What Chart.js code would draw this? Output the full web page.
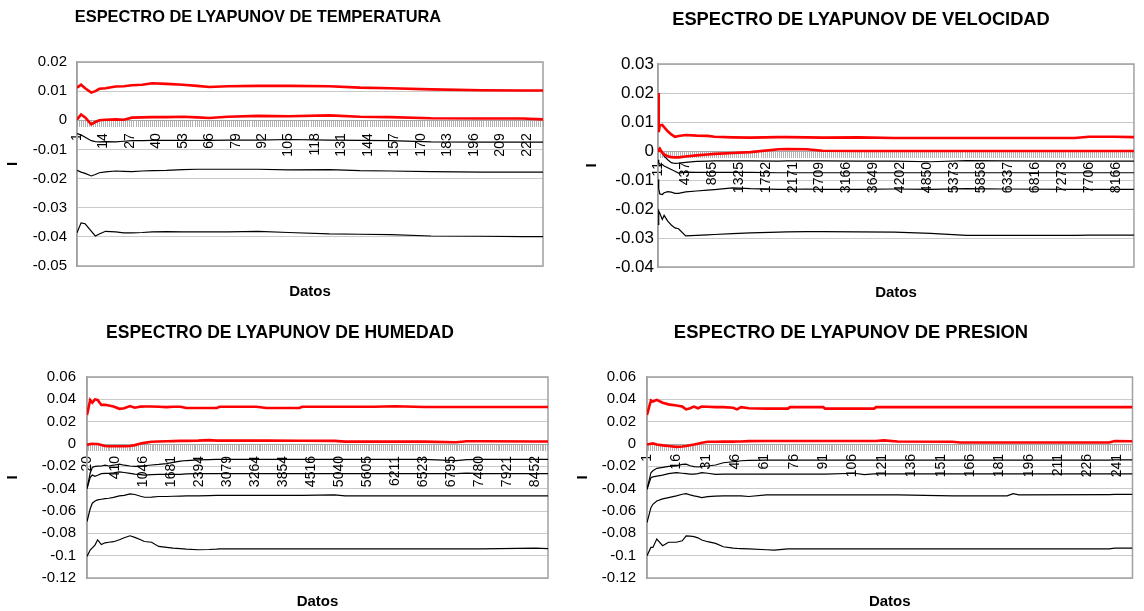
<!DOCTYPE html>
<html>
<head>
<meta charset="utf-8">
<script src="https://cdn.jsdelivr.net/npm/chart.js@4.4.1/dist/chart.umd.min.js"></script>
<style>
  body { margin: 0; background: #fff; width: 1144px; height: 611px; position: relative; overflow: hidden; }
  canvas { position: absolute; }
</style>
</head>
<body>
<canvas id="chart-temp" width="560" height="305" style="left:0;top:0"></canvas>
<canvas id="chart-vel" width="565" height="305" style="left:579px;top:0"></canvas>
<canvas id="chart-hum" width="570" height="301" style="left:0;top:310px"></canvas>
<canvas id="chart-pres" width="574" height="301" style="left:570px;top:310px"></canvas>
<script>
// temperatura (x = dato)
const tempX = [1, 3, 5, 8, 10, 12, 15, 20, 24, 28, 33, 38, 45, 53, 60, 66, 75, 90, 105, 125, 140, 155, 175, 200, 220, 230];
const tempR1 = [0.0112, 0.0122, 0.0110, 0.0095, 0.0100, 0.0108, 0.0110, 0.0116, 0.0117, 0.0120, 0.0122, 0.0127, 0.0125, 0.0122, 0.0118, 0.0114, 0.0117, 0.0118, 0.0118, 0.0117, 0.0112, 0.0110, 0.0106, 0.0103, 0.0102, 0.0102];
const tempR2 = [0.0002, 0.0020, 0.0010, -0.0014, -0.0006, 0.0000, 0.0002, 0.0003, 0.0002, 0.0009, 0.0010, 0.0011, 0.0011, 0.0012, 0.0010, 0.0008, 0.0012, 0.0015, 0.0014, 0.0017, 0.0012, 0.0011, 0.0007, 0.0006, 0.0006, 0.0003];
const tempB1 = [-0.0046, -0.0050, -0.0058, -0.0070, -0.0073, -0.0074, -0.0073, -0.0074, -0.0072, -0.0070, -0.0070, -0.0069, -0.0069, -0.0069, -0.0069, -0.0069, -0.0068, -0.0068, -0.0066, -0.0068, -0.0069, -0.0070, -0.0074, -0.0075, -0.0075, -0.0075];
const tempB2 = [-0.0172, -0.0178, -0.0182, -0.0191, -0.0186, -0.0180, -0.0177, -0.0174, -0.0175, -0.0176, -0.0174, -0.0173, -0.0172, -0.0169, -0.0168, -0.0168, -0.0168, -0.0168, -0.0170, -0.0169, -0.0173, -0.0174, -0.0176, -0.0178, -0.0178, -0.0178];
const tempB3 = [-0.0386, -0.0352, -0.0355, -0.0380, -0.0397, -0.0390, -0.0381, -0.0383, -0.0386, -0.0386, -0.0385, -0.0383, -0.0382, -0.0383, -0.0383, -0.0383, -0.0383, -0.0381, -0.0385, -0.0390, -0.0391, -0.0392, -0.0397, -0.0398, -0.0399, -0.0399];
const tempTicks = ["1", "14", "27", "40", "53", "66", "79", "92", "105", "118", "131", "144", "157", "170", "183", "196", "209", "222"];

// velocidad (x = posicion del dato)
const velX = [0, 13, 32, 77, 109, 173, 237, 302, 366, 494, 687, 879, 1007, 1328, 1649, 2150, 2291, 2650, 2933, 3574, 4216, 4858, 5499, 6141, 7425, 7680, 8130, 8483];
const velR1 = [0.0200, 0.0065, 0.0088, 0.0090, 0.0082, 0.0068, 0.0057, 0.0049, 0.0052, 0.0055, 0.0053, 0.0052, 0.0049, 0.0047, 0.0046, 0.0048, 0.0048, 0.0047, 0.0046, 0.0047, 0.0045, 0.0045, 0.0045, 0.0045, 0.0045, 0.0049, 0.0049, 0.0048];
const velR2 = [0.0000, 0.0005, 0.0008, -0.0006, -0.0012, -0.0018, -0.0021, -0.0022, -0.0022, -0.0019, -0.0015, -0.0012, -0.0010, -0.0007, -0.0004, 0.0006, 0.0007, 0.0006, 0.0001, 0.0000, 0.0000, 0.0000, 0.0000, 0.0000, 0.0000, 0.0000, 0.0000, 0.0000];
const velB1 = [0.0000, 0.0005, 0.0011, -0.0008, -0.0018, -0.0030, -0.0040, -0.0043, -0.0042, -0.0039, -0.0036, -0.0035, -0.0034, -0.0034, -0.0034, -0.0035, -0.0034, -0.0034, -0.0034, -0.0035, -0.0035, -0.0037, -0.0033, -0.0034, -0.0035, -0.0035, -0.0035, -0.0035];
const velB2 = [-0.0030, -0.0040, -0.0045, -0.0047, -0.0052, -0.0058, -0.0064, -0.0070, -0.0076, -0.0073, -0.0074, -0.0074, -0.0074, -0.0074, -0.0074, -0.0075, -0.0075, -0.0075, -0.0075, -0.0075, -0.0075, -0.0075, -0.0075, -0.0075, -0.0075, -0.0075, -0.0075, -0.0075];
const velB3 = [-0.0098, -0.0130, -0.0148, -0.0150, -0.0144, -0.0140, -0.0142, -0.0146, -0.0146, -0.0141, -0.0138, -0.0135, -0.0133, -0.0127, -0.0130, -0.0132, -0.0132, -0.0131, -0.0132, -0.0132, -0.0131, -0.0132, -0.0130, -0.0131, -0.0132, -0.0132, -0.0132, -0.0132];
const velB4 = [-0.0253, -0.0207, -0.0215, -0.0236, -0.0222, -0.0242, -0.0255, -0.0265, -0.0268, -0.0293, -0.0291, -0.0289, -0.0288, -0.0285, -0.0282, -0.0280, -0.0279, -0.0278, -0.0278, -0.0279, -0.0280, -0.0284, -0.0291, -0.0291, -0.0291, -0.0290, -0.0290, -0.0290];
const velTicks = ["11", "437", "865", "1325", "1752", "2171", "2709", "3166", "3649", "4202", "4850", "5373", "5858", "6337", "6816", "7273", "7706", "8166"];

// humedad (x = posicion del dato)
const humX = [0, 60, 100, 150, 200, 270, 340, 410, 500, 610, 700, 810, 900, 1010, 1080, 1215, 1350, 1500, 1620, 1760, 1870, 2090, 2300, 2440, 2500, 3190, 3380, 4000, 4050, 4660, 4860, 5400, 5800, 6350, 6950, 7150, 7420, 8440, 8680];
const humR1 = [0.026, 0.0394, 0.037, 0.040, 0.0395, 0.035, 0.0352, 0.0345, 0.0335, 0.0315, 0.032, 0.034, 0.0325, 0.0335, 0.0336, 0.0336, 0.0334, 0.0330, 0.0334, 0.0334, 0.0322, 0.0322, 0.0322, 0.0322, 0.0334, 0.0334, 0.0322, 0.0322, 0.0333, 0.0333, 0.0333, 0.0333, 0.0338, 0.0332, 0.0332, 0.0332, 0.0332, 0.0332, 0.0332];
const humR2 = [-0.0008, 0.0000, 0.0002, 0.0000, 0.0000, -0.0008, -0.0018, -0.0020, -0.0020, -0.0020, -0.0020, -0.0018, -0.0010, 0.0005, 0.0010, 0.0020, 0.0022, 0.0025, 0.0026, 0.0028, 0.0028, 0.0030, 0.0035, 0.0030, 0.0030, 0.0030, 0.0030, 0.0029, 0.0029, 0.0028, 0.0021, 0.0021, 0.0021, 0.0021, 0.0016, 0.0024, 0.0024, 0.0022, 0.0022];
const humB1 = [-0.040, -0.026, -0.021, -0.020, -0.0198, -0.0197, -0.019, -0.0197, -0.019, -0.018, -0.019, -0.0197, -0.020, -0.020, -0.0195, -0.0188, -0.0183, -0.0175, -0.0165, -0.0153, -0.0148, -0.0143, -0.0140, -0.0138, -0.0138, -0.0138, -0.0138, -0.0138, -0.0138, -0.0138, -0.0138, -0.0138, -0.0138, -0.0138, -0.0148, -0.0140, -0.0138, -0.0138, -0.0138];
const humB2 = [-0.040, -0.030, -0.0278, -0.029, -0.028, -0.0265, -0.0263, -0.0263, -0.0258, -0.025, -0.0255, -0.0263, -0.027, -0.0275, -0.0278, -0.0275, -0.0272, -0.0272, -0.0272, -0.0272, -0.0268, -0.0266, -0.0266, -0.0266, -0.0266, -0.0266, -0.0266, -0.0266, -0.0266, -0.0266, -0.0266, -0.0266, -0.0266, -0.0266, -0.0266, -0.0260, -0.0266, -0.0266, -0.0266];
const humB3 = [-0.0694, -0.058, -0.053, -0.051, -0.050, -0.0495, -0.049, -0.0486, -0.0478, -0.0465, -0.046, -0.0447, -0.0452, -0.0468, -0.0477, -0.0475, -0.047, -0.047, -0.0468, -0.0466, -0.0465, -0.0465, -0.0462, -0.046, -0.046, -0.046, -0.046, -0.046, -0.046, -0.0455, -0.0465, -0.0465, -0.0465, -0.0465, -0.0465, -0.0465, -0.0465, -0.0465, -0.0465];
const humB4 = [-0.1007, -0.095, -0.093, -0.0905, -0.0858, -0.090, -0.0885, -0.088, -0.0875, -0.0858, -0.084, -0.0822, -0.0836, -0.0858, -0.0873, -0.088, -0.0917, -0.0925, -0.0932, -0.0937, -0.0942, -0.0947, -0.0945, -0.0942, -0.094, -0.094, -0.094, -0.094, -0.094, -0.094, -0.094, -0.094, -0.094, -0.094, -0.094, -0.094, -0.094, -0.0932, -0.0937];
const humTicks = ["20", "410", "1046", "1681", "2394", "3079", "3264", "3854", "4516", "5040", "5605", "6211", "6523", "6795", "7480", "7921", "8452"];

// presion (x = dato)
const presX = [1, 3, 4, 6, 9, 12, 16, 19, 21, 23, 25, 27, 29, 32, 36, 40, 45, 47, 49, 53, 62, 66, 73, 74, 91, 92, 107, 112, 117, 118, 122, 129, 157, 161, 185, 188, 191, 237, 240, 249];
const presR1 = [0.026, 0.039, 0.038, 0.0395, 0.037, 0.0355, 0.0345, 0.0335, 0.031, 0.032, 0.0335, 0.032, 0.0335, 0.0333, 0.033, 0.033, 0.0325, 0.031, 0.033, 0.032, 0.0317, 0.0317, 0.0317, 0.033, 0.033, 0.0317, 0.0317, 0.0317, 0.0317, 0.033, 0.033, 0.033, 0.033, 0.033, 0.033, 0.033, 0.033, 0.033, 0.033, 0.033];
const presR2 = [-0.0004, 0.0002, 0.0005, -0.0005, -0.0012, -0.0018, -0.0026, -0.0022, -0.0018, -0.0012, -0.0005, 0.0003, 0.0011, 0.0020, 0.0020, 0.0021, 0.0021, 0.0022, 0.0022, 0.0026, 0.0027, 0.0027, 0.0027, 0.0027, 0.0027, 0.0027, 0.0027, 0.0027, 0.0027, 0.0027, 0.0032, 0.0022, 0.0020, 0.0013, 0.0013, 0.0013, 0.0013, 0.0013, 0.0026, 0.0024];
const presB1 = [-0.0406, -0.0257, -0.024, -0.0218, -0.021, -0.020, -0.0197, -0.0182, -0.018, -0.0195, -0.0203, -0.0206, -0.020, -0.0197, -0.0188, -0.0168, -0.0159, -0.0155, -0.015, -0.0147, -0.0145, -0.0145, -0.0145, -0.0145, -0.0145, -0.0145, -0.0145, -0.0145, -0.0145, -0.0145, -0.0145, -0.0145, -0.0145, -0.0145, -0.0145, -0.0145, -0.0145, -0.0145, -0.0142, -0.0142];
const presB2 = [-0.0406, -0.0302, -0.0295, -0.0287, -0.0278, -0.0266, -0.0257, -0.0262, -0.0266, -0.027, -0.027, -0.0265, -0.0257, -0.0262, -0.0272, -0.027, -0.027, -0.027, -0.027, -0.027, -0.027, -0.027, -0.027, -0.027, -0.027, -0.027, -0.0262, -0.0275, -0.0268, -0.0268, -0.0268, -0.0268, -0.0268, -0.0268, -0.0268, -0.0268, -0.0268, -0.0268, -0.0268, -0.0268];
const presB3 = [-0.0703, -0.057, -0.054, -0.051, -0.0492, -0.048, -0.0465, -0.045, -0.0444, -0.0455, -0.0465, -0.0472, -0.048, -0.0472, -0.0466, -0.0465, -0.0465, -0.0465, -0.0465, -0.047, -0.0456, -0.0456, -0.0456, -0.0456, -0.0456, -0.0456, -0.0456, -0.0456, -0.0456, -0.0456, -0.0456, -0.0456, -0.0465, -0.0465, -0.0465, -0.0445, -0.0455, -0.0453, -0.0452, -0.0452];
const presB4 = [-0.100, -0.0926, -0.0926, -0.0851, -0.0911, -0.088, -0.088, -0.0867, -0.0822, -0.0825, -0.083, -0.084, -0.086, -0.0875, -0.089, -0.092, -0.0932, -0.0935, -0.0937, -0.094, -0.0947, -0.095, -0.094, -0.094, -0.094, -0.094, -0.094, -0.094, -0.094, -0.094, -0.094, -0.094, -0.094, -0.094, -0.094, -0.094, -0.094, -0.094, -0.0932, -0.0932];
const presTicks = ["1", "16", "31", "46", "61", "76", "91", "106", "121", "136", "151", "166", "181", "196", "211", "226", "241"];

Chart.defaults.font.family = '"Liberation Sans", Arial, sans-serif';
Chart.defaults.color = "#000";

const GRID = "#cacaca";
const FRAME = "#a0a0a0";

// titulo del grafico en una posicion fija
const chartTitle = (text, x, y, size) => ({
  id: "chartTitle",
  afterDraw(chart) {
    const ctx = chart.ctx;
    ctx.save();
    ctx.font = "bold " + size + 'px "Liberation Sans", Arial, sans-serif';
    ctx.fillStyle = "#000";
    ctx.textAlign = "center";
    ctx.textBaseline = "middle";
    ctx.fillText(text, x, y);
    ctx.restore();
  },
});

// marco del area de trazado
const plotFrame = {
  id: "plotFrame",
  beforeDatasetsDraw(chart) {
    const a = chart.chartArea;
    const ctx = chart.ctx;
    ctx.save();
    ctx.strokeStyle = FRAME;
    ctx.lineWidth = 1.5;
    ctx.strokeRect(a.left, a.top, a.right - a.left, a.bottom - a.top);
    ctx.restore();
  },
};

const lyapunov = (id, p) => {
  const datasets = p.series.map((s, k) => ({
    data: p.xs.map((x, i) => ({ x: x, y: s[i] })),
    borderColor: k < 2 ? "#ff0000" : "#000000",
    borderWidth: k < 2 ? 2.6 : 1.2,
    pointRadius: 0,
    tension: 0,
    xAxisID: "x",
    yAxisID: "y",
  }));

  return new Chart(document.getElementById(id), {
    type: "line",
    data: { datasets: datasets },
    options: {
      responsive: false,
      animation: false,
      layout: { padding: p.pad },
      plugins: {
        legend: { display: false },
        tooltip: { enabled: false },
      },
      scales: {
        x: {
          type: "linear",
          axis: "x",
          position: { y: 0 },
          min: p.xMin,
          max: p.xMax,
          afterBuildTicks: (scale) => {
            scale.ticks = p.tickLabels.map((t, i) => ({ value: p.tickPos(t, i) }));
          },
          ticks: {
            autoSkip: false,
            minRotation: 90,
            maxRotation: 90,
            padding: p.labelPad,
            font: { size: 14 },
            callback: (v, i) => p.tickLabels[i],
          },
          grid: { display: false, drawTicks: false },
          border: { display: false },
        },
        xm: {
          type: "linear",
          axis: "x",
          position: { y: 0 },
          min: p.xMin,
          max: p.xMax,
          afterBuildTicks: (scale) => {
            const t = [];
            for (let v = p.xMin; v <= p.xMax; v += p.minorStep) t.push({ value: v });
            scale.ticks = t;
          },
          ticks: { display: false, autoSkip: false },
          grid: { drawOnChartArea: false, drawTicks: true, tickLength: 6, color: "#b4b4b4" },
          border: { display: true, color: "#a8a8a8" },
        },
        xd: {
          type: "linear",
          axis: "x",
          position: "bottom",
          min: 0,
          max: 1,
          afterFit: (scale) => {
            scale.height = p.bottomH;
          },
          ticks: { display: false },
          grid: { display: false, drawTicks: false },
          border: { display: false },
          title: {
            display: true,
            text: "Datos",
            font: { size: 15, weight: "bold" },
            padding: { top: 0, bottom: p.datosPad },
          },
        },
        y: {
          min: p.yMin,
          max: p.yMax,
          afterFit: (scale) => {
            scale.width = p.yWidth;
          },
          ticks: {
            stepSize: p.yStep,
            padding: p.yPad,
            font: { size: p.yFont },
            callback: (v) => String(+v.toFixed(2)),
          },
          grid: { color: GRID, drawTicks: false },
          border: { color: FRAME, width: 1.5 },
          title: {
            display: true,
            text: "I",
            font: { size: 15, weight: "bold" },
          },
        },
      },
    },
    plugins: [chartTitle(p.title, p.titleX, p.titleY, p.titleSize), plotFrame],
  });
};

// temperatura
lyapunov("chart-temp", {
  title: "ESPECTRO DE LYAPUNOV DE TEMPERATURA", titleX: 258, titleY: 17, titleSize: 16.4,
  xs: tempX, series: [tempR1, tempR2, tempB1, tempB2, tempB3],
  xMin: 1, xMax: 230, minorStep: 1,
  tickLabels: tempTicks, tickPos: (t) => Number(t), labelPad: 13,
  yMin: -0.05, yMax: 0.02, yStep: 0.01, yFont: 15, yPad: 10, yWidth: 77,
  pad: { top: 62, right: 17, left: 0, bottom: 0 }, bottomH: 39, datosPad: 4,
});

// velocidad
lyapunov("chart-vel", {
  title: "ESPECTRO DE LYAPUNOV DE VELOCIDAD", titleX: 282, titleY: 20, titleSize: 18.3,
  xs: velX, series: [velR1, velR2, velB1, velB2, velB3, velB4],
  xMin: 0, xMax: 8483, minorStep: 36,
  tickLabels: velTicks, tickPos: (t, i) => i * 480, labelPad: 11,
  yMin: -0.04, yMax: 0.03, yStep: 0.01, yFont: 17, yPad: 4, yWidth: 79,
  pad: { top: 64, right: 1, left: 0, bottom: 0 }, bottomH: 38, datosPad: 3,
});

// humedad
lyapunov("chart-hum", {
  title: "ESPECTRO DE LYAPUNOV DE HUMEDAD", titleX: 280, titleY: 23, titleSize: 17.5,
  xs: humX, series: [humR1, humR2, humB1, humB2, humB3, humB4],
  xMin: 0, xMax: 8680, minorStep: 36,
  tickLabels: humTicks, tickPos: (t, i) => i * 527, labelPad: 12,
  yMin: -0.12, yMax: 0.06, yStep: 0.02, yFont: 15, yPad: 11, yWidth: 87,
  pad: { top: 67, right: 22, left: 0, bottom: 0 }, bottomH: 33, datosPad: 0,
});

// presion
lyapunov("chart-pres", {
  title: "ESPECTRO DE LYAPUNOV DE PRESION", titleX: 281, titleY: 23, titleSize: 18.4,
  xs: presX, series: [presR1, presR2, presB1, presB2, presB3, presB4],
  xMin: 1, xMax: 249, minorStep: 1,
  tickLabels: presTicks, tickPos: (t) => Number(t), labelPad: 10,
  yMin: -0.12, yMax: 0.06, yStep: 0.02, yFont: 15, yPad: 11, yWidth: 77,
  pad: { top: 67, right: 8, left: 0, bottom: 0 }, bottomH: 33, datosPad: 0,
});
</script>
</body>
</html>
